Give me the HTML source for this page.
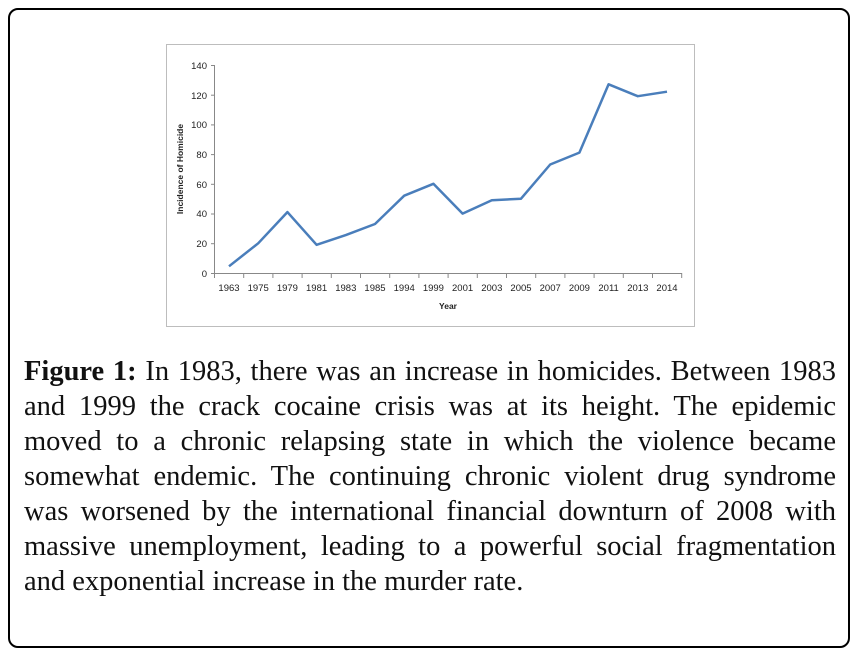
<!DOCTYPE html>
<html><head><meta charset="utf-8"><style>
body{margin:0;width:860px;height:660px;background:#fff;position:relative;overflow:hidden}
.frame{position:absolute;left:8px;top:8px;width:842px;height:640px;border:2px solid #000;border-radius:10px;box-sizing:border-box}
.cap{position:absolute;left:24px;width:812px;font-family:"Liberation Serif",serif;font-size:28.5px;line-height:35px;color:#111;white-space:nowrap}
.j{text-align:justify;text-align-last:justify}
</style></head><body>
<div class="frame"></div>
<svg width="860" height="660" style="position:absolute;left:0;top:0" font-family="Liberation Sans, sans-serif">
<rect x="166.5" y="44.5" width="528" height="282" fill="none" stroke="#bdbdbd"/>
<g stroke="#888" stroke-width="1">
<line x1="214.5" y1="65" x2="214.5" y2="273"/>
<line x1="214.5" y1="273.5" x2="682" y2="273.5"/>
<line x1="211" y1="65.5" x2="214.5" y2="65.5"/><line x1="211" y1="95.2" x2="214.5" y2="95.2"/>
<line x1="211" y1="124.9" x2="214.5" y2="124.9"/><line x1="211" y1="154.6" x2="214.5" y2="154.6"/>
<line x1="211" y1="184.3" x2="214.5" y2="184.3"/><line x1="211" y1="214" x2="214.5" y2="214"/>
<line x1="211" y1="243.7" x2="214.5" y2="243.7"/><line x1="211" y1="273.5" x2="214.5" y2="273.5"/>
</g>
<g stroke="#888"><path d="M214.5 273v5M243.7 273v5M272.9 273v5M302.1 273v5M331.3 273v5M360.5 273v5M389.7 273v5M418.9 273v5M448.1 273v5M477.3 273v5M506.5 273v5M535.7 273v5M564.9 273v5M594.1 273v5M623.3 273v5M652.5 273v5M681.7 273v5"/></g>
<g font-size="9.5" fill="#222" text-anchor="end">
<text x="207" y="69">140</text><text x="207" y="99">120</text><text x="207" y="128">100</text>
<text x="207" y="158">80</text><text x="207" y="188">60</text><text x="207" y="217">40</text>
<text x="207" y="247">20</text><text x="207" y="277">0</text>
</g>
<g font-size="9.5" fill="#222" text-anchor="middle">
<text x="229" y="291">1963</text><text x="258.2" y="291">1975</text><text x="287.4" y="291">1979</text><text x="316.6" y="291">1981</text>
<text x="345.8" y="291">1983</text><text x="375" y="291">1985</text><text x="404.2" y="291">1994</text><text x="433.4" y="291">1999</text>
<text x="462.6" y="291">2001</text><text x="491.8" y="291">2003</text><text x="521" y="291">2005</text><text x="550.2" y="291">2007</text>
<text x="579.4" y="291">2009</text><text x="608.6" y="291">2011</text><text x="637.8" y="291">2013</text><text x="667" y="291">2014</text>
<text x="448" y="309" font-weight="bold" font-size="8.5">Year</text>
<text transform="translate(183,169) rotate(-90)" font-weight="bold" font-size="8.5">Incidence of Homicide</text>
</g>
<polyline fill="none" stroke="#4a7ebb" stroke-width="2.5" stroke-linejoin="round" points="229,266.3 258.2,243.3 287.4,212.1 316.6,244.8 345.8,235.1 375,224 404.2,195.7 433.4,183.8 462.6,213.6 491.8,200.2 521,198.7 550.2,164.5 579.4,152.6 608.6,84.3 637.8,96.2 667,91.7"/>
</svg>
<div class="cap j" style="top:354px"><b>Figure 1:</b> In 1983, there was an increase in homicides. Between 1983</div>
<div class="cap j" style="top:389px">and 1999 the crack cocaine crisis was at its height. The epidemic</div>
<div class="cap j" style="top:424px">moved to a chronic relapsing state in which the violence became</div>
<div class="cap j" style="top:459px">somewhat endemic. The continuing chronic violent drug syndrome</div>
<div class="cap j" style="top:494px">was worsened by the international financial downturn of 2008 with</div>
<div class="cap j" style="top:529px">massive unemployment, leading to a powerful social fragmentation</div>
<div class="cap" style="top:564px">and exponential increase in the murder rate.</div>
</body></html>
